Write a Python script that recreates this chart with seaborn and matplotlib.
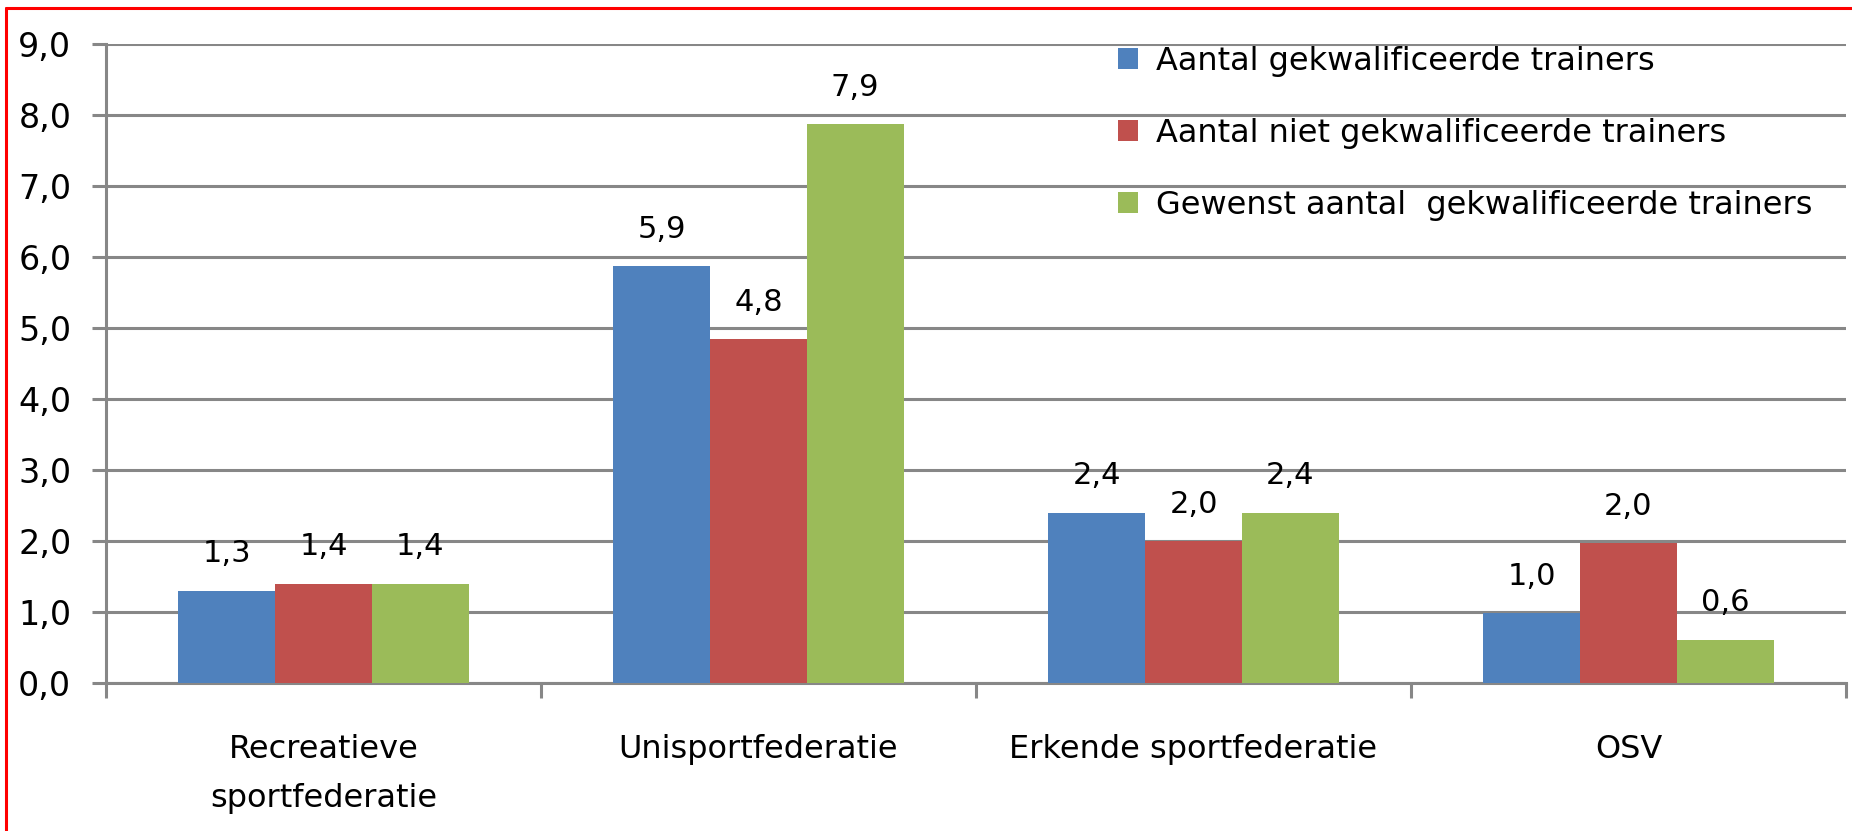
import pandas as pd
import matplotlib.pyplot as plt
import seaborn as sns
from matplotlib.lines import Line2D
from matplotlib.ticker import FuncFormatter

categories = ['Recreatieve\nsportfederatie', 'Unisportfederatie', 'Erkende sportfederatie', 'OSV']
series = ['Aantal gekwalificeerde trainers',
          'Aantal niet gekwalificeerde trainers',
          'Gewenst aantal  gekwalificeerde trainers']
gekwalificeerd = [1.3, 5.87, 2.4, 0.98]
niet_gekwalificeerd = [1.4, 4.84, 2.0, 1.97]
gewenst = [1.4, 7.87, 2.4, 0.61]
colors = ['#4F81BD', '#C0504D', '#9BBB59']
grey = '#878787'

rows = []
for s, vals in zip(series, [gekwalificeerd, niet_gekwalificeerd, gewenst]):
    for c, v in zip(categories, vals):
        rows.append({'categorie': c, 'reeks': s, 'waarde': v})
df = pd.DataFrame(rows)

sns.set_style('white')
plt.rcParams['font.family'] = ['DejaVu Sans']
plt.rcParams['text.color'] = 'black'
plt.rcParams['xtick.labelcolor'] = 'black'
plt.rcParams['ytick.labelcolor'] = 'black'

fig = plt.figure(figsize=(18.52, 8.31), dpi=100)
ax = fig.add_axes([106 / 1852, 1 - 683 / 831, 1740 / 1852, 639 / 831])

sns.barplot(data=df, x='categorie', y='waarde', hue='reeks', order=categories,
            hue_order=series, palette=colors, saturation=1, width=0.667,
            errorbar=None, linewidth=0, ax=ax, zorder=3)

# value labels above the bars, with a comma as decimal sign
for cont in ax.containers:
    labs = [f'{b.get_height():.1f}'.replace('.', ',') for b in cont]
    ax.bar_label(cont, labels=labs, padding=16, fontsize=22, color='black')

ax.set_ylim(0, 9)
ax.set_xlim(-0.5, 3.5)
ax.set_yticks(range(10))
ax.yaxis.set_major_formatter(FuncFormatter(lambda v, p: f'{v:.1f}'.replace('.', ',')))
ax.set_xlabel('')
ax.set_ylabel('')

ax.grid(axis='y', color=grey, linewidth=2.2, zorder=0)
ax.set_axisbelow(True)
for side in ['top', 'right']:
    ax.spines[side].set_visible(False)
for side in ['left', 'bottom']:
    ax.spines[side].set_color(grey)
    ax.spines[side].set_linewidth(2.2)

ax.tick_params(axis='y', left=True, length=10, width=2.2, color=grey, pad=15, labelsize=24)
ax.tick_params(axis='x', which='major', bottom=False, length=0, pad=37, labelsize=23)
ax.set_xticks([-0.5, 0.5, 1.5, 2.5, 3.5], minor=True)
ax.tick_params(axis='x', which='minor', bottom=True, length=11, width=2.2, color=grey)
for t in ax.get_xticklabels():
    t.set_linespacing(1.72)

handles, labels = ax.get_legend_handles_labels()
ax.legend(handles, labels, loc='upper left', bbox_to_anchor=(1118 / 1852, 1 - 46 / 831),
          bbox_transform=fig.transFigure, frameon=False, fontsize=23,
          handlelength=0.62, handleheight=0.62, handletextpad=0.58,
          labelspacing=1.28, borderpad=0, borderaxespad=0)

# red frame around the picture (top and left edges)
fig.add_artist(Line2D([5.5 / 1852, 1], [1 - 8.3 / 831, 1 - 8.3 / 831], color='red', linewidth=2.2,
                      transform=fig.transFigure))
fig.add_artist(Line2D([5.5 / 1852, 5.5 / 1852], [0, 1 - 8.3 / 831], color='red', linewidth=2.2,
                      transform=fig.transFigure))

fig.savefig('out.png', dpi=100)
